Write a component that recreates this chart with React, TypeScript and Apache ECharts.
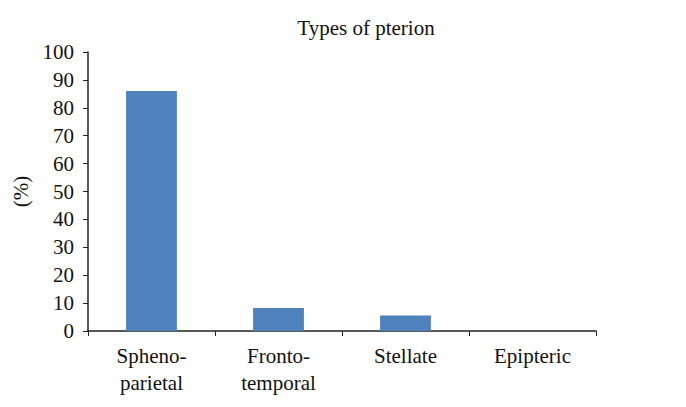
import React, { useEffect, useRef } from "react";
import * as echarts from "echarts";

const categories = ["Spheno-\nparietal", "Fronto-\ntemporal", "Stellate", "Epipteric"];
const values = [86, 8.2, 5.6, 0];
const yTicks = { min: 0, max: 100, interval: 10 };
const titleText = "Types of pterion";
const yName = "(%)";

export default function App() {
  const ref = useRef<HTMLDivElement>(null);
  useEffect(() => {
    const chart = echarts.init(ref.current!, null, { renderer: "svg" });
    const font = "Liberation Serif";
    const lbl = { fontFamily: font, fontSize: 21, color: "#111", fontWeight: "normal" as const };
    chart.setOption({
      animation: false,
      backgroundColor: "#fff",
      textStyle: { fontFamily: font },
      title: {
        text: titleText,
        left: 361,
        top: 12,
        textAlign: "center",
        textStyle: { ...lbl },
      },
      grid: { left: 88, right: 90, top: 52, bottom: 76 },
      xAxis: {
        type: "category",
        data: categories,
        axisLine: { lineStyle: { color: "#222", width: 1.5 } },
        axisTick: { show: true, length: 5, lineStyle: { color: "#222" } },
        axisLabel: { ...lbl, margin: 11, lineHeight: 27 },
      },
      yAxis: {
        type: "value",
        min: yTicks.min,
        max: yTicks.max,
        interval: yTicks.interval,
        name: yName,
        nameLocation: "middle",
        nameGap: 55,
        nameRotate: 90,
        nameTextStyle: { ...lbl },
        splitLine: { show: false },
        axisLine: { show: true, lineStyle: { color: "#222", width: 1.5 } },
        axisTick: { show: true, length: 5, lineStyle: { color: "#222" } },
        axisLabel: { ...lbl, margin: 14 },
      },
      series: [
        {
          type: "bar",
          data: values,
          barWidth: "40%",
          itemStyle: { color: "#4F81BD" },
        },
      ],
    });
    return () => chart.dispose();
  }, []);
  return <div ref={ref} style={{ width: 686, height: 407, margin: -8 }} />;
}
